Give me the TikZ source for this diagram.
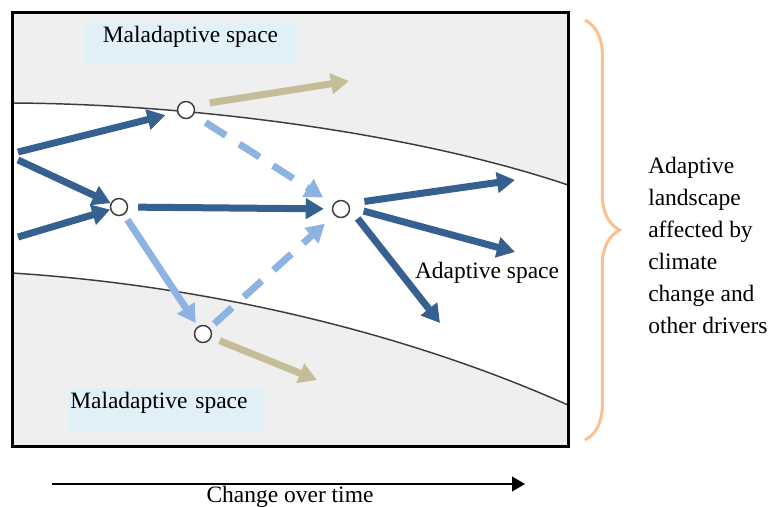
\documentclass[tikz,border=0pt]{standalone}
\usepackage{fontspec}
\setmainfont{Liberation Serif}
\definecolor{deep}{HTML}{36608F}
\definecolor{pale}{HTML}{8DB3E2}
\definecolor{khaki}{HTML}{C4BD97}
\definecolor{mist}{HTML}{EFEFEF}
\definecolor{tag}{HTML}{E2F0F8}
\definecolor{peach}{HTML}{FAC090}
\definecolor{ink}{HTML}{3C3C3C}
\usetikzlibrary{arrows.meta, decorations.pathreplacing}
\tikzset{
  fwd/.style={-{Triangle[length=13.5pt,width=15pt]}, line width=5.25pt, color=deep},
  alt/.style={-{Triangle[length=13.5pt,width=15pt]}, line width=5.25pt, color=pale},
  altdash/.style={alt, dash pattern=on 18pt off 12pt},
  dead/.style={-{Triangle[length=13.5pt,width=15pt]}, line width=5.25pt, color=khaki},
  lbl/.style={font=\fontsize{17.6}{24}\selectfont, inner sep=0pt},
}

\begin{document}
\begin{tikzpicture}[x=0.75pt,y=-0.75pt,
st/.style={circle,draw=ink,fill=white,line width=1.1pt,minimum size=12.75pt,inner sep=0pt}]
\useasboundingbox (0,0) rectangle (769,507);
% landscape bands
\fill[mist] (12,12) rectangle (568,446);
\fill[white] (12,103) .. controls (200,104) and (420,135) .. (568,185) -- (568,405)
  .. controls (400,330) and (200,285) .. (12,273) -- cycle;
\draw[ink,line width=1.1pt] (12,103) .. controls (200,104) and (420,135) .. (568,185);
\draw[ink,line width=1.1pt] (12,273) .. controls (200,285) and (400,330) .. (568,405);
\draw[line width=2.25pt] (12,12) rectangle (568,446);
% labels
\node[lbl,fill=tag,minimum width=161.25pt,text height=15pt,text depth=16.5pt] (mtop) at (190.5,43) {Maladaptive space};
\node[lbl,fill=tag,anchor=north west,text width=144pt,align=left,inner xsep=1.5pt,
  text height=15.75pt,text depth=18pt] (mbot) at (68,387) {Maladaptive space};
\node[lbl] (adsp) at (487,273) {Adaptive space};
% states
\node[st] (n1) at (186,110) {};
\node[st] (n2) at (119,207) {};
\node[st] (n3) at (341,209) {};
\node[st] (n4) at (203,334) {};
\coordinate (s1) at (18,152);\coordinate (s2) at (18,160);\coordinate (s3) at (18,237);
\coordinate (e1) at (349,81);\coordinate (e2) at (317,380);
\coordinate (e3) at (515,180);\coordinate (e4) at (515,252);\coordinate (e5) at (440,323);
% pathways
\draw[fwd,shorten >=9pt] (s1)--(n1);
\draw[fwd] (s2)--(n2);
\draw[fwd] (s3)--(n2);
\draw[fwd,shorten <=7.5pt,shorten >=6pt] (n2)--(n3);
\draw[fwd,shorten <=12pt] (n3.35)--(e3);
\draw[fwd,shorten <=10.5pt] (n3.10)--(e4);
\draw[fwd,shorten <=9pt] (n3.east)--(e5);
\draw[altdash,shorten <=10.5pt,shorten >=9pt] (n1)--(n3);
\draw[alt,shorten <=4.5pt,shorten >=3pt] (n2)--(n4);
\draw[altdash,shorten <=4.5pt,shorten >=9.5pt] (n4)--(n3);
\draw[dead,shorten <=12pt] (n1.30)--(e1);
\draw[dead,shorten <=6.5pt] (n4)--(e2);
% brace and axis
\draw[peach,line width=2.25pt,decorate,decoration={brace,amplitude=26pt}] (585,20)--(585,440);
\node[lbl,anchor=west,align=left] (drv) at (648,245) {Adaptive\\landscape\\affected by\\climate\\change and\\other drivers};
\coordinate (t0) at (52,484);\coordinate (t1) at (525,484);
\draw[line width=1.5pt,-{Triangle[length=9.75pt,width=11pt]}] (t0)--(t1);
\node[lbl,anchor=base] (time) at (290,502) {Change over time};
\end{tikzpicture}
\end{document}
